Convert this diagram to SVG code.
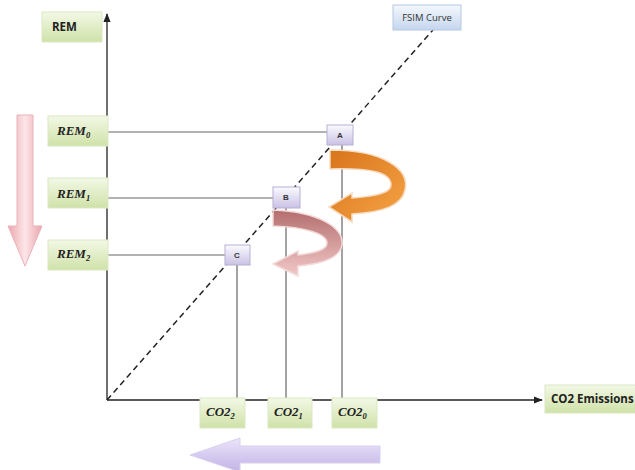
<svg xmlns="http://www.w3.org/2000/svg" width="635" height="470" viewBox="0 0 635 470">
<defs>
<linearGradient id="gGreen" x1="0" y1="0" x2="0" y2="1"><stop offset="0" stop-color="#f3f8e6"/><stop offset="1" stop-color="#cfe2a8"/></linearGradient>
<linearGradient id="gLav" x1="0" y1="0" x2="0" y2="1"><stop offset="0" stop-color="#fbfaff"/><stop offset="1" stop-color="#c9c2e4"/></linearGradient>
<linearGradient id="gBlue" x1="0" y1="0" x2="0" y2="1"><stop offset="0" stop-color="#f4f8fd"/><stop offset="1" stop-color="#c4d6ee"/></linearGradient>
<linearGradient id="gOrange" x1="0" y1="0" x2="1" y2="1"><stop offset="0" stop-color="#d8741c"/><stop offset="1" stop-color="#f6a446"/></linearGradient>
<linearGradient id="gRose" x1="0" y1="0" x2="0" y2="1"><stop offset="0" stop-color="#b46e6e"/><stop offset="1" stop-color="#f2c8c8"/></linearGradient>
<linearGradient id="gPink" x1="0" y1="0" x2="1" y2="0"><stop offset="0" stop-color="#eaa6ae"/><stop offset="0.5" stop-color="#fde6e8"/><stop offset="1" stop-color="#eaa6ae"/></linearGradient>
<linearGradient id="gPurple" x1="0" y1="0" x2="0" y2="1"><stop offset="0" stop-color="#ece6fa"/><stop offset="0.5" stop-color="#d6cbf0"/><stop offset="1" stop-color="#c2b4e4"/></linearGradient>
<marker id="ah" viewBox="0 0 10 10" refX="9" refY="5" markerWidth="7" markerHeight="7" orient="auto"><path d="M0,1 L10,5 L0,9 Z" fill="#222"/></marker>
<style>
.gbox{fill:url(#gGreen);stroke:#dbe8c4;stroke-width:1}
.lbox{fill:url(#gLav);stroke:#b8b0d4;stroke-width:1}
.ln{stroke:#666;stroke-width:1.2;fill:none}
.ax{stroke:#222;stroke-width:1.3;fill:none}
.sans{font-family:"Open Sans","Liberation Sans",sans-serif;font-weight:bold;fill:#222}
.math{font-family:"Liberation Serif",serif;font-weight:bold;font-style:italic;fill:#222}
.sm{font-family:"Liberation Sans",sans-serif;font-weight:bold;fill:#333;font-size:8px}
</style>
</defs>
<rect width="635" height="470" fill="#fff"/>
<g id="connectors">
<line class="ax" x1="107" y1="400" x2="107" y2="14" marker-end="url(#ah)"/>
<line class="ax" x1="107" y1="400" x2="542" y2="400" marker-end="url(#ah)"/>
<line x1="107" y1="400" x2="433" y2="30" stroke="#222" stroke-width="1.5" stroke-dasharray="6,4"/>
<line class="ln" x1="107" y1="132" x2="327" y2="132"/>
<line class="ln" x1="107" y1="198" x2="273" y2="198"/>
<line class="ln" x1="107" y1="255" x2="225" y2="255"/>
<line class="ln" x1="342" y1="145" x2="342" y2="400"/>
<line class="ln" x1="286" y1="208" x2="286" y2="400"/>
<line class="ln" x1="237" y1="265" x2="237" y2="400"/>
</g>
<g id="arrowDown"><path d="M17,115 L33,115 L33,226 L42,226 L25,266 L8,226 L17,226 Z" fill="url(#gPink)" stroke="#e7b2b8" stroke-width="1"/></g>
<g id="arrowLeft"><path d="M380,446 L240,446 L240,438 L190,455 L240,472 L240,463 L380,463 Z" fill="url(#gPurple)" stroke="#d8d0ee" stroke-width="1"/></g>
<g id="curlOrange"><path d="M330,150 C385,150 410,170 405,190 C402,205 385,212 352,214 L352,222 L329,207 L352,193 L352,198 C380,196 391,192 391,185 C391,172 370,168 330,169 Z" fill="url(#gOrange)" stroke="#f6dcc0" stroke-width="1.5"/></g>
<g id="curlRose"><path d="M273,210 C320,212 344,228 342,245 C340,258 320,264 298,266 L298,276 L273,264 L298,251 L298,255 C315,253 327,250 327,243 C327,234 305,227 273,226 Z" fill="url(#gRose)" stroke="#f4dada" stroke-width="1.5"/></g>
<g id="REM"><rect class="gbox" x="42" y="12" width="60" height="30"/><text class="sans" x="52" y="31" font-size="11.5">REM</text></g>
<g id="FSIM"><rect x="393" y="5" width="68" height="25" fill="url(#gBlue)" stroke="#b6c8e2"/><text x="427" y="21" text-anchor="middle" font-family="Open Sans,Liberation Sans,sans-serif" font-size="9.5" fill="#333">FSIM Curve</text></g>
<g id="REM0"><rect class="gbox" x="48" y="116" width="60" height="30"/><text class="math" x="57" y="135" font-size="13">REM<tspan font-size="8.5" dy="3">0</tspan></text></g>
<g id="REM1"><rect class="gbox" x="48" y="178" width="60" height="30"/><text class="math" x="57" y="198" font-size="13">REM<tspan font-size="8.5" dy="3">1</tspan></text></g>
<g id="REM2"><rect class="gbox" x="48" y="240" width="60" height="30"/><text class="math" x="57" y="258" font-size="13">REM<tspan font-size="8.5" dy="3">2</tspan></text></g>
<g id="A"><rect class="lbox" x="327" y="125" width="26" height="20"/><text class="sm" x="340" y="138" text-anchor="middle">A</text></g>
<g id="B"><rect class="lbox" x="273" y="187" width="27" height="21"/><text class="sm" x="286" y="200" text-anchor="middle">B</text></g>
<g id="C"><rect class="lbox" x="225" y="245" width="25" height="20"/><text class="sm" x="237" y="258" text-anchor="middle">C</text></g>
<g id="CO22"><rect class="gbox" x="200" y="398" width="45" height="30"/><text class="math" x="206" y="416" font-size="13">CO2<tspan font-size="8.5" dy="3">2</tspan></text></g>
<g id="CO21"><rect class="gbox" x="268" y="398" width="44" height="30"/><text class="math" x="274" y="416" font-size="13">CO2<tspan font-size="8.5" dy="3">1</tspan></text></g>
<g id="CO20"><rect class="gbox" x="332" y="398" width="45" height="30"/><text class="math" x="338" y="416" font-size="13">CO2<tspan font-size="8.5" dy="3">0</tspan></text></g>
<g id="CO2E"><rect class="gbox" x="545" y="385" width="95" height="28"/><text class="sans" x="551" y="403" font-size="11.5">CO2 Emissions</text></g>
</svg>
